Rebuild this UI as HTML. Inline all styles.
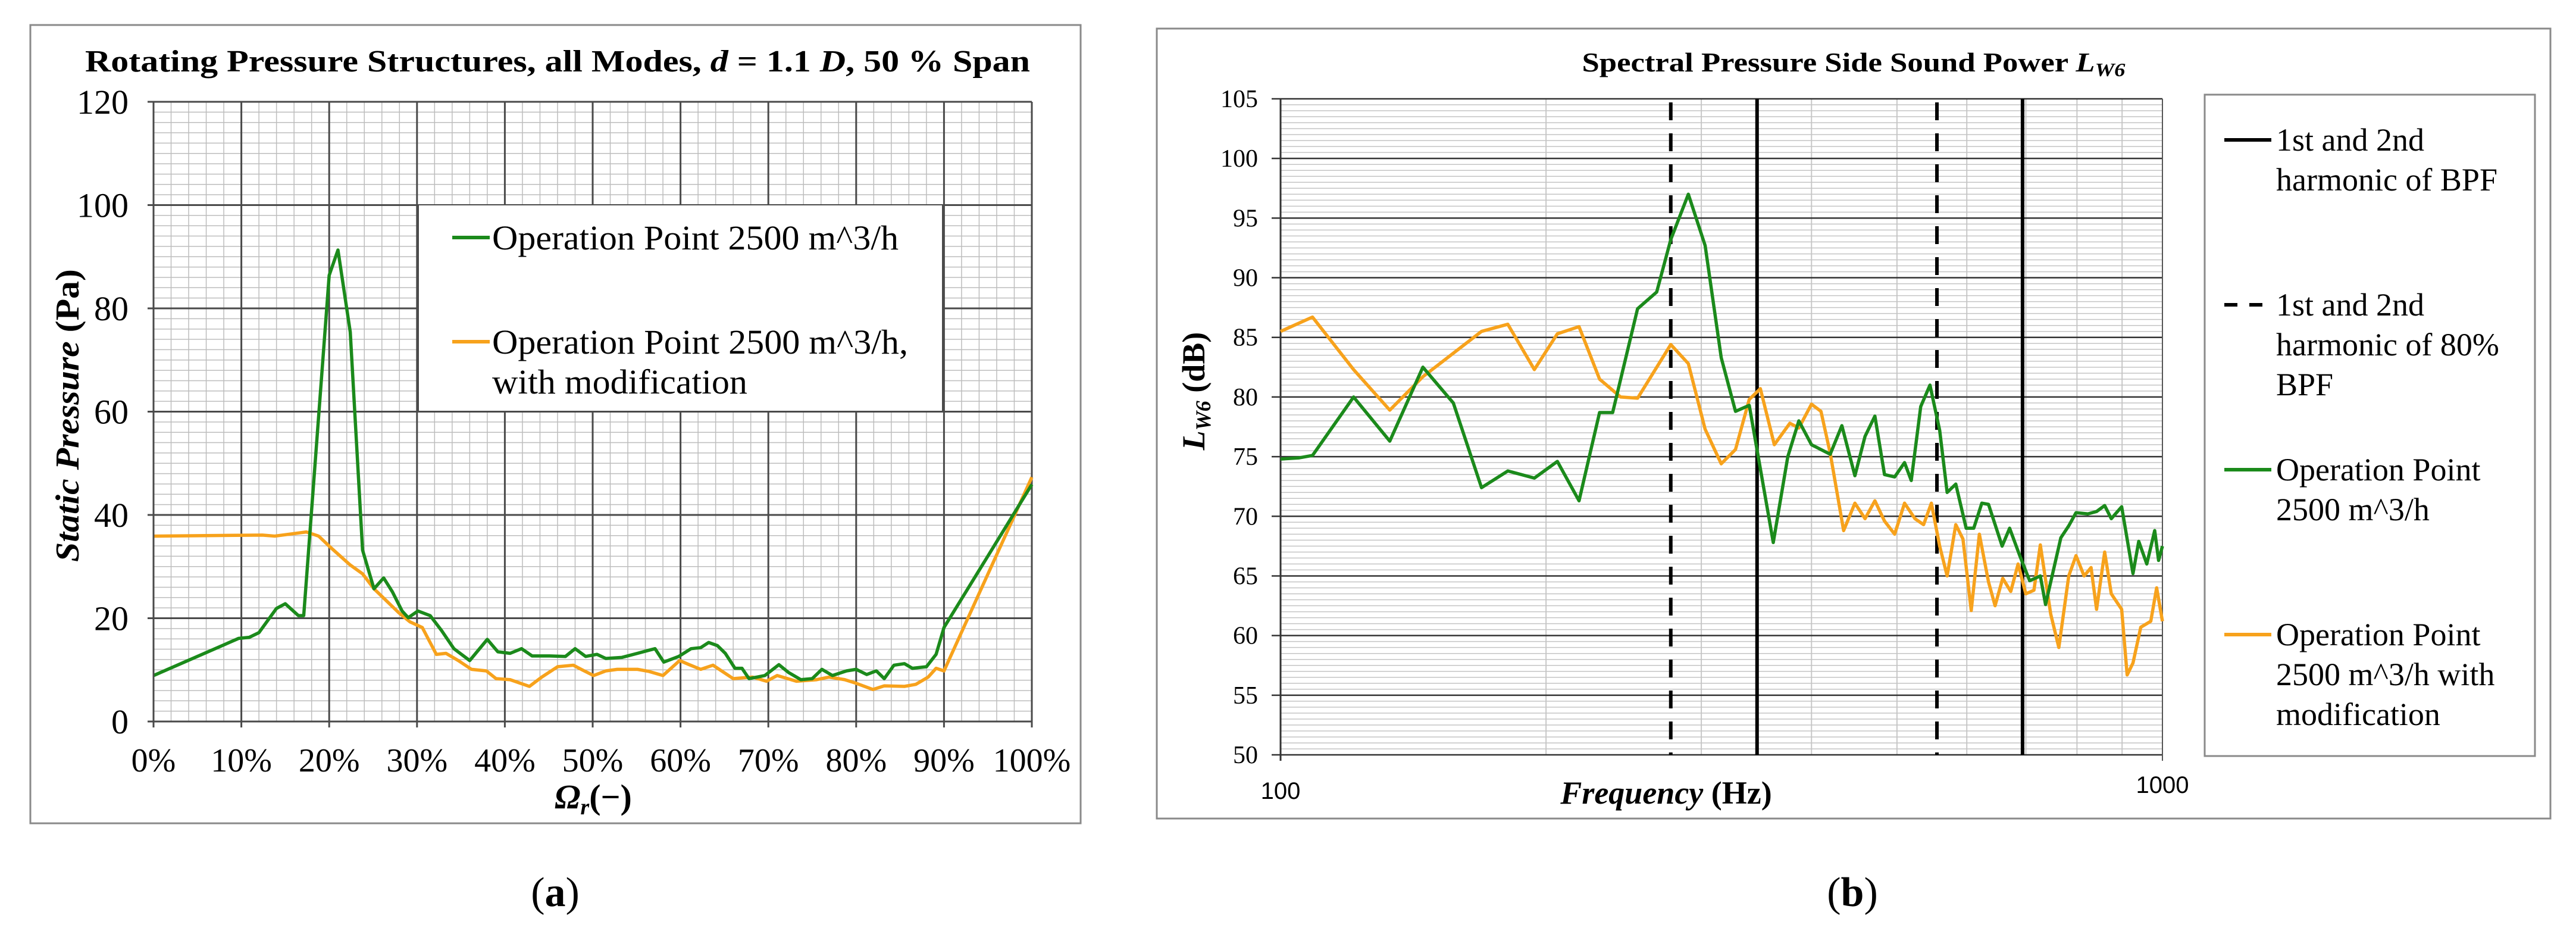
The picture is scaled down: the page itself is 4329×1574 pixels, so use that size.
<!DOCTYPE html>
<html><head><meta charset="utf-8"><style>
html,body{margin:0;padding:0;background:#fff;}
svg{display:block;font-family:"Liberation Serif",serif;}
</style></head><body>
<svg id="fig" width="4329" height="1574" viewBox="0 0 4329 1574" xmlns="http://www.w3.org/2000/svg">
<rect x="0" y="0" width="4329" height="1574" fill="#fff"/>
<rect x="51" y="42" width="1765" height="1341" fill="#fff" stroke="#8a8a8a" stroke-width="3"/>
<rect x="1944" y="48" width="2342" height="1327" fill="#fff" stroke="#8a8a8a" stroke-width="3"/>
<g id="ga"></g>
<g id="gb"></g>

<text x="937" y="120" text-anchor="middle" font-weight="bold" font-size="52" textLength="1588" lengthAdjust="spacingAndGlyphs">Rotating Pressure Structures, all Modes, <tspan font-style="italic">d</tspan> = 1.1 <tspan font-style="italic">D</tspan>, 50 % Span</text>
<text transform="translate(132,698) rotate(-90)" text-anchor="middle" font-weight="bold" font-size="56" textLength="492" lengthAdjust="spacingAndGlyphs"><tspan font-style="italic">Static Pressure</tspan> (Pa)</text>
<text x="997" y="1358" text-anchor="middle" font-weight="bold" font-size="58"><tspan font-style="italic">Ω</tspan><tspan font-style="italic" font-size="38" dy="10">r</tspan><tspan dy="-10">(−)</tspan></text>
<text x="933" y="1522" text-anchor="middle" font-size="70" font-family="Liberation Serif, serif">(<tspan font-weight="bold">a</tspan>)</text>

<text x="3115" y="120" text-anchor="middle" font-weight="bold" font-size="46" textLength="913" lengthAdjust="spacingAndGlyphs">Spectral Pressure Side Sound Power <tspan font-style="italic">L</tspan><tspan font-style="italic" font-size="32" dy="8">W6</tspan></text>
<text transform="translate(2024,657) rotate(-90)" text-anchor="middle" font-weight="bold" font-size="54"><tspan font-style="italic">L</tspan><tspan font-style="italic" font-size="36" dy="10">W6</tspan><tspan dy="-10"> (dB)</tspan></text>
<text x="2800" y="1350" text-anchor="middle" font-weight="bold" font-size="54"><tspan font-style="italic">Frequency</tspan>  (Hz)</text>
<text x="3113" y="1522" text-anchor="middle" font-size="70">(<tspan font-weight="bold">b</tspan>)</text>
</svg>
<script>
// ---------- Chart A data ----------
const aGreenX=[0,9.7,10.9,12,14,15,16.5,17.1,20,21,22.4,23.8,25.1,26.2,27.2,28.3,29,30.1,31.5,32.8,34.2,36,38,39.2,40.6,41.9,43.1,45.1,46.9,48,49.2,50.5,51.5,53.3,55.1,56.4,57.1,58.1,59.8,61.2,62.3,63.2,64.2,65.1,66.2,67,67.8,69.6,71.2,72.3,73.7,75,76.1,77.3,78.9,80,81.2,82.3,83.2,84.3,85.5,86.4,88,89.1,90,100];
const aGreenY=[8.9,16.1,16.3,17.2,21.9,22.8,20.5,20.5,86.4,91.3,75.4,33.2,25.7,27.8,25.1,21.4,20.1,21.4,20.5,17.6,14.1,11.8,15.9,13.5,13.2,14.1,12.7,12.7,12.6,14.1,12.6,13.0,12.2,12.4,13.2,13.8,14.1,11.5,12.6,14.1,14.3,15.3,14.7,13.2,10.3,10.3,8.3,8.9,11.0,9.5,8.1,8.3,10.1,8.9,9.8,10.1,9.1,9.8,8.3,10.9,11.2,10.3,10.6,13.0,18.2,45.9];
const aOrangeX=[0,12.4,13.8,17.4,18.8,20.1,22.4,23.8,25.1,26.5,27.9,29.2,30.6,32.2,33.3,34.7,36.2,37.9,39,40.6,42.8,44.2,46,47.8,48.7,50.1,51.5,52.8,55.1,56.4,58,59.9,61,62.3,63.7,66,68.2,69.8,71,73.2,75.5,76.9,78.7,80,81.9,83.2,85.5,86.8,88.2,89.1,90,100];
const aOrangeY=[35.9,36.1,35.9,36.7,35.9,33.8,30.3,28.6,25.7,23.4,21.1,19.3,18.2,13.0,13.2,11.8,10.1,9.8,8.3,8.1,6.8,8.6,10.6,10.9,10.1,8.9,9.8,10.1,10.1,9.7,8.9,11.8,11.0,10.1,10.9,8.3,8.6,7.8,8.9,7.8,8.1,8.6,8.1,7.4,6.2,6.9,6.8,7.2,8.6,10.3,9.8,47.3];
const aXTicks=[0,10,20,30,40,50,60,70,80,90,100];
const aXTickLabels=["0%","10%","20%","30%","40%","50%","60%","70%","80%","90%","100%"];
const aYTicks=[0,20,40,60,80,100,120];
const aYTickLabels=["0","20","40","60","80","100","120"];
const aLegendLabels=["Operation Point 2500 m^3/h","Operation Point 2500 m^3/h,","with modification"];

// ---------- Chart B data ----------
const bGreenF=[100,105,108.7,121,133,145,157,169,181,194,206,218,230,238,254,267,277,290,303,316,328,340,362,376,387,400,420,433,448,460,472,484,497,510,519,532,545,559,570,583,599,611,624,635,658,671,689,707,727,737,767,783,798,823,842,860,875,899,926,940,960,980,990,1000];
const bGreenDB=[74.8,74.9,75.1,80.0,76.3,82.5,79.5,72.4,73.8,73.2,74.6,71.3,78.7,78.7,87.4,88.8,93.2,97.0,92.7,83.3,78.8,79.3,67.8,75.0,78.0,76.0,75.2,77.6,73.4,76.7,78.4,73.5,73.3,74.5,73.0,79.2,81.0,77.2,72.0,72.7,69.0,69.0,71.1,71.0,67.5,69.0,66.7,64.6,65.0,62.6,68.2,69.2,70.3,70.2,70.4,70.9,69.8,70.8,65.2,67.9,66.0,68.8,66.3,67.5];
const bOrangeF=[100,108.7,121,133,145,169,181,194,206,218,230,243,254,277,290,303,316,328,340,350,363,378,387,400,410,420,435,448,460,472,484,497,510,524,536,547,559,570,583,594,607,620,635,646,659,673,686,700,715,727,747,763,783,798,815,830,842,860,875,899,912,926,945,970,985,1000];
const bOrangeDB=[85.5,86.7,82.3,78.9,81.7,85.5,86.1,82.3,85.3,85.9,81.5,80.0,79.9,84.4,82.8,77.3,74.4,75.6,79.8,80.7,76.0,77.8,77.4,79.4,78.8,75.3,68.8,71.1,69.8,71.3,69.6,68.5,71.1,69.8,69.3,71.1,67.5,65.0,69.3,68.1,62.1,68.5,64.5,62.5,64.8,63.7,66.0,63.5,63.8,67.6,61.8,59.0,65.0,66.7,65.0,65.7,62.2,67.0,63.5,62.2,56.7,57.7,60.7,61.2,64.0,61.2];
const bBPF=[347,694];
const bBPF80=[277,555];
const bYTicks=[50,55,60,65,70,75,80,85,90,95,100,105];
const bXTickLabels=["100","1000"];
const bLegendLabels=[["1st and 2nd","harmonic of BPF"],["1st and 2nd","harmonic of 80%","BPF"],["Operation Point","2500 m^3/h"],["Operation Point","2500 m^3/h with","modification"]];

const NS="http://www.w3.org/2000/svg";
const GREEN="#1b8a1b", ORANGE="#f7a21c";
function mk(parent,tag,attrs,text){const e=document.createElementNS(NS,tag);for(const k in attrs)e.setAttribute(k,attrs[k]);if(text!==undefined)e.textContent=text;parent.appendChild(e);return e;}

// ===== Chart A =====
(function(){
const g=document.getElementById('ga');
const L=258,R=1734,T=171,B=1212;
const xs=v=>L+(v/100)*(R-L);
const ys=v=>B-(v/120)*(B-T);
mk(g,'rect',{x:L,y:T,width:R-L,height:B-T,fill:'#fff'});
const grid=mk(g,'g',{});


for(let v=0;v<=100;v+=2){if(v%10)mk(grid,'line',{x1:xs(v),x2:xs(v),y1:T,y2:B,stroke:'#bdbdbd','stroke-width':1.5});}
for(let v=0;v<=120;v+=2){if(v%20)mk(grid,'line',{x1:L,x2:R,y1:ys(v),y2:ys(v),stroke:'#bdbdbd','stroke-width':1.5});}
aXTicks.forEach((v,i)=>{
 mk(grid,'line',{x1:xs(v),x2:xs(v),y1:T,y2:B+10,stroke:'#4a4a4a','stroke-width':3});
 const t=mk(g,'text',{x:xs(v),y:1296,'text-anchor':'middle','font-size':56},aXTickLabels[i]);
 
 
});
aYTicks.forEach((v,i)=>{
 mk(grid,'line',{x1:L-10,x2:R,y1:ys(v),y2:ys(v),stroke:'#4a4a4a','stroke-width':3});
 const t=mk(g,'text',{x:216,y:ys(v)+20,'text-anchor':'end','font-size':58},aYTickLabels[i]);
 
 
});
function series(X,Y,col,name){
 const p=mk(g,'polyline',{points:X.map((x,i)=>xs(x)+','+ys(Y[i])).join(' '),fill:'none',stroke:col,'stroke-width':5.5,'stroke-linejoin':'round'});
 
 
}
// legend box
const lg=mk(g,'g',{});


mk(lg,'rect',{x:703,y:344,width:881,height:347,fill:'#fff',stroke:'#4a4a4a','stroke-width':2});
mk(lg,'line',{x1:760,x2:823,y1:399,y2:399,stroke:GREEN,'stroke-width':6});
mk(lg,'line',{x1:760,x2:823,y1:574,y2:574,stroke:ORANGE,'stroke-width':6});
const t1=mk(lg,'text',{x:827,y:419,'font-size':58,textLength:683,lengthAdjust:'spacingAndGlyphs'},aLegendLabels[0]);


const t2=mk(lg,'text',{x:827,y:594,'font-size':58,textLength:699,lengthAdjust:'spacingAndGlyphs'},aLegendLabels[1]);


const t3=mk(lg,'text',{x:827,y:661,'font-size':58,textLength:429,lengthAdjust:'spacingAndGlyphs'},aLegendLabels[2]);


series(aOrangeX,aOrangeY,ORANGE,'series-modified');
series(aGreenX,aGreenY,GREEN,'series-operation-point');
mk(g,'line',{x1:L,x2:L,y1:T,y2:B,stroke:'#4a4a4a','stroke-width':3});
})();

// ===== Chart B =====
(function(){
const g=document.getElementById('gb');
const L=2152,R=3634,T=166,B=1268;
const xs=f=>L+(Math.log10(f)-2)*(R-L);
const ys=v=>B-((v-50)/55)*(B-T);
const grid=mk(g,'g',{});


for(let f=200;f<1000;f+=100)mk(grid,'line',{x1:xs(f),x2:xs(f),y1:T,y2:B,stroke:'#c8c8c8','stroke-width':2});
for(let v=50;v<=105;v+=0.5){if(Math.abs(v%5)>0.01)mk(grid,'line',{x1:L,x2:R,y1:ys(v),y2:ys(v),stroke:'#c4c4c4','stroke-width':1.5});}
bYTicks.forEach(v=>{
 mk(grid,'line',{x1:L-15,x2:R,y1:ys(v),y2:ys(v),stroke:'#333','stroke-width':2.5});
 const t=mk(g,'text',{x:2114,y:ys(v)+14,'text-anchor':'end','font-size':42},String(v));
 
 
});
mk(g,'line',{x1:L,x2:L,y1:T,y2:B+10,stroke:'#333','stroke-width':3});
mk(g,'line',{x1:R,x2:R,y1:T,y2:B+10,stroke:'#555','stroke-width':2});
[100,1000].forEach((f,i)=>{
 const t=mk(g,'text',{x:xs(f),y:i?1332:1342,'text-anchor':'middle','font-size':40,'font-family':'Liberation Sans, sans-serif'},bXTickLabels[i]);
 
 
});
bBPF80.forEach(f=>{
 const l=mk(g,'line',{x1:xs(f),x2:xs(f),y1:T+6,y2:B,stroke:'#000','stroke-width':6,'stroke-dasharray':'30 22'});
 
 
});
bBPF.forEach(f=>{
 const l=mk(g,'line',{x1:xs(f),x2:xs(f),y1:T,y2:B,stroke:'#000','stroke-width':6});
 
 
});
function series(X,Y,col,name){
 const p=mk(g,'polyline',{points:X.map((x,i)=>xs(x)+','+ys(Y[i])).join(' '),fill:'none',stroke:col,'stroke-width':5.5,'stroke-linejoin':'round'});
 
 
}
series(bOrangeF,bOrangeDB,ORANGE,'series-modified');
series(bGreenF,bGreenDB,GREEN,'series-operation-point');
// legend
const lg=mk(g,'g',{});


mk(lg,'rect',{x:3705,y:159,width:555,height:1111,fill:'#fff',stroke:'#8a8a8a','stroke-width':3});
const firstBase=[253,530,807,1084];
const lineStyles=[{stroke:'#000'},{stroke:'#000','stroke-dasharray':'22 20'},{stroke:GREEN},{stroke:ORANGE}];
bLegendLabels.forEach((lines,i)=>{
 const a=Object.assign({x1:3738,x2:3817,y1:firstBase[i]-18,y2:firstBase[i]-18,'stroke-width':6},lineStyles[i]);
 mk(lg,'line',a);
 lines.forEach((s,j)=>{
  const t=mk(lg,'text',{x:3825,y:firstBase[i]+j*67,'font-size':54},s);
  
  
 });
});
})();
</script>
</body></html>
